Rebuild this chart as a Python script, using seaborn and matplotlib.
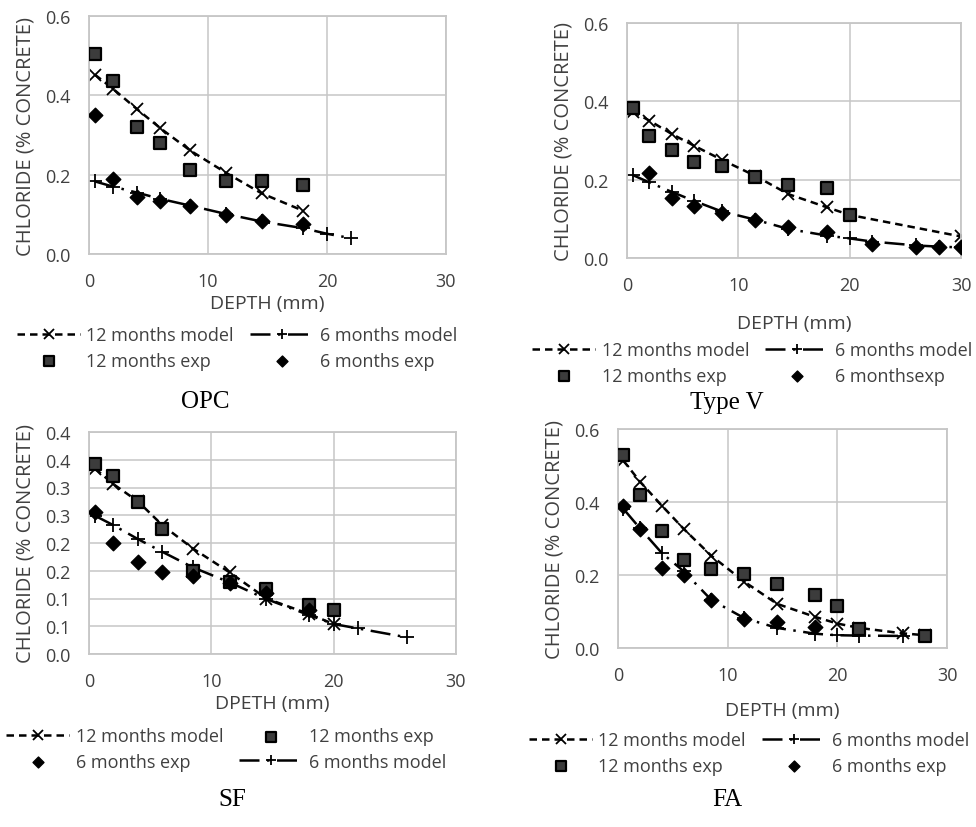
import matplotlib
matplotlib.use("Agg")
import matplotlib.pyplot as plt
import seaborn as sns
from matplotlib.ticker import FuncFormatter, MultipleLocator
import math

# ---- data ----
# OPC
opc_depth = [0.5, 2, 4, 6, 8.5, 11.5, 14.5, 18]
opc_12_model = [0.452, 0.417, 0.366, 0.317, 0.261, 0.205, 0.153, 0.109]
opc_12_exp = [0.503, 0.435, 0.320, 0.279, 0.213, 0.183, 0.183, 0.174]
opc_6_depth = [0.5, 2, 4, 6, 8.5, 11.5, 14.5, 18, 20, 22]
opc_6_model = [0.183, 0.170, 0.155, 0.139, 0.122, 0.101, 0.082, 0.065, 0.051, 0.040]
opc_6_exp = [0.351, 0.188, 0.143, 0.133, 0.122, 0.099, 0.082, 0.075]

# Type V
tv_12_model_depth = [0.5, 2, 4, 6, 8.5, 11.5, 14.5, 18, 20, 30]
tv_12_model = [0.374, 0.351, 0.317, 0.287, 0.251, 0.210, 0.163, 0.129, 0.110, 0.055]
tv_12_exp_depth = [0.5, 2, 4, 6, 8.5, 11.5, 14.5, 18, 20]
tv_12_exp = [0.382, 0.312, 0.276, 0.244, 0.236, 0.206, 0.186, 0.178, 0.110]
tv_6_model_depth = [0.5, 2, 4, 6, 8.5, 11.5, 14.5, 18, 20, 22, 26, 28, 30]
tv_6_model = [0.212, 0.193, 0.169, 0.146, 0.119, 0.098, 0.074, 0.057, 0.050, 0.042, 0.032, 0.029, 0.027]
tv_6_exp_depth = [2, 4, 6, 8.5, 11.5, 14.5, 18, 22, 26, 28, 30]
tv_6_exp = [0.217, 0.153, 0.134, 0.115, 0.097, 0.080, 0.066, 0.037, 0.029, 0.027, 0.027]

# SF
sf_depth = [0.5, 2, 4, 6, 8.5, 11.5, 14.5, 18, 20]
sf_12_model = [0.334, 0.306, 0.275, 0.232, 0.190, 0.147, 0.100, 0.072, 0.054]
sf_12_exp = [0.343, 0.321, 0.273, 0.226, 0.150, 0.130, 0.118, 0.088, 0.080]
sf_6_model_depth = [0.5, 2, 4, 6, 8.5, 11.5, 14.5, 18, 20, 22, 26]
sf_6_model = [0.249, 0.232, 0.207, 0.184, 0.156, 0.129, 0.099, 0.070, 0.054, 0.046, 0.030]
sf_6_exp_depth = [0.5, 2, 4, 6, 8.5, 11.5, 14.5, 18]
sf_6_exp = [0.255, 0.200, 0.166, 0.148, 0.140, 0.128, 0.110, 0.080]

# FA
fa_12_exp_depth = [0.5, 2, 4, 6, 8.5, 11.5, 14.5, 18, 20, 22, 28]
fa_12_exp = [0.529, 0.419, 0.320, 0.242, 0.217, 0.203, 0.176, 0.144, 0.114, 0.051, 0.032]
fa_12_model_depth = [0.5, 2, 4, 6, 8.5, 11.5, 14.5, 18, 20, 22, 26, 28]
fa_12_model = [0.513, 0.456, 0.390, 0.326, 0.253, 0.182, 0.121, 0.085, 0.067, 0.055, 0.040, 0.035]
fa_6_model_depth = [0.5, 2, 4, 6, 8.5, 11.5, 14.5, 18, 20, 22, 26]
fa_6_model = [0.381, 0.328, 0.260, 0.210, 0.132, 0.082, 0.055, 0.039, 0.035, 0.034, 0.033]
fa_6_exp_depth = [0.5, 2, 4, 6, 8.5, 11.5, 14.5, 18]
fa_6_exp = [0.390, 0.326, 0.219, 0.199, 0.132, 0.080, 0.071, 0.057]

W, H = 976, 828
sns.set_theme(style="whitegrid")
plt.rcParams['font.family'] = ['Open Sans', 'DejaVu Sans']
TXT = '#404040'
GRID = '#c6c6c6'

fig = plt.figure(figsize=(W / 100, H / 100), dpi=100)


def rect(l, r, t, b):
    return [l / W, 1 - b / H, (r - l) / W, (b - t) / H]


def half_up(v, pos):
    # Excel style rounding: 0.35 -> 0.4, 0.25 -> 0.3
    return "%.1f" % (math.floor(v * 10 + 0.5 + 1e-9) / 10)


def draw_panel(box, ymax, ystep, m12, e12, m6, e6, labels, order,
               xlabel, xlabelpad, leg_xy, caption, cap_xy):
    ax = fig.add_axes(rect(*box))
    sns.lineplot(x=m12[0], y=m12[1], ax=ax, color='black', lw=1.8,
                 linestyle=(0, (3, 2)), marker='x', markersize=9,
                 markeredgecolor='black', markeredgewidth=1.3,
                 label=labels[0], legend=False)
    sns.lineplot(x=m6[0], y=m6[1], ax=ax, color='black', lw=1.8,
                 linestyle=(0, (8, 3, 1, 3)), marker='+', markersize=10,
                 markeredgecolor='black', markeredgewidth=1.3,
                 label=labels[1], legend=False)
    sns.scatterplot(x=e12[0], y=e12[1], ax=ax, marker='s', s=80,
                    color='#3c3c3c', edgecolor='black', linewidth=1.6,
                    label=labels[2], legend=False, zorder=3)
    sns.scatterplot(x=e6[0], y=e6[1], ax=ax, marker='D', s=55,
                    color='black', edgecolor='black', linewidth=1,
                    label=labels[3], legend=False, zorder=3)

    ax.set_xlim(0, 30)
    ax.set_ylim(0, ymax)
    ax.xaxis.set_major_locator(MultipleLocator(10))
    ax.yaxis.set_major_locator(MultipleLocator(ystep))
    ax.yaxis.set_major_formatter(FuncFormatter(half_up))
    ax.grid(True, color=GRID, lw=1.1)
    for s in ax.spines.values():
        s.set_color(GRID)
        s.set_linewidth(1.3)
    ax.tick_params(length=0, pad=13, labelsize=13, labelcolor=TXT)
    ax.set_xlabel(xlabel, fontsize=14, color=TXT, labelpad=xlabelpad)
    ax.set_ylabel("CHLORIDE (% CONCRETE)", fontsize=14.5, color=TXT, labelpad=7)

    h, l = ax.get_legend_handles_labels()
    lookup = dict(zip(l, h))
    ax.legend([lookup[k] for k in order], order, loc='center',
              bbox_to_anchor=(leg_xy[0] / W, 1 - leg_xy[1] / H),
              bbox_transform=fig.transFigure, ncol=2, frameon=False,
              fontsize=13, handlelength=3.5, handletextpad=0.35,
              columnspacing=0.9, labelspacing=0.4, borderpad=0,
              markerscale=0.75, labelcolor=TXT)
    fig.text(cap_xy[0] / W, 1 - cap_xy[1] / H, caption, ha='center',
             va='center', fontsize=18, family='Liberation Serif', color='black')
    return ax


labels_std = ["12 months model", "6 months model", "12 months exp", "6 months exp"]

draw_panel((89, 446, 17, 255), 0.6, 0.2,
           (opc_depth, opc_12_model), (opc_depth, opc_12_exp),
           (opc_6_depth, opc_6_model), (opc_depth, opc_6_exp),
           labels_std,
           ["12 months model", "12 months exp", "6 months model", "6 months exp"],
           "DEPTH (mm)", 3, (237, 349), "OPC", (205, 402))

labels_tv = ["12 months model", "6 months model", "12 months exp", "6 monthsexp"]
draw_panel((627, 961, 24, 259), 0.6, 0.2,
           (tv_12_model_depth, tv_12_model), (tv_12_exp_depth, tv_12_exp),
           (tv_6_model_depth, tv_6_model), (tv_6_exp_depth, tv_6_exp),
           labels_tv,
           ["12 months model", "12 months exp", "6 months model", "6 monthsexp"],
           "DEPTH (mm)", 14, (752, 364), "Type V", (727, 403))

draw_panel((89, 456, 433, 655), 0.4, 0.05,
           (sf_depth, sf_12_model), (sf_depth, sf_12_exp),
           (sf_6_model_depth, sf_6_model), (sf_6_exp_depth, sf_6_exp),
           labels_std,
           ["12 months model", "6 months exp", "12 months exp", "6 months model"],
           "DPETH (mm)", 3, (226, 750), "SF", (232, 800))

draw_panel((618, 947, 430, 649), 0.6, 0.2,
           (fa_12_model_depth, fa_12_model), (fa_12_exp_depth, fa_12_exp),
           (fa_6_model_depth, fa_6_model), (fa_6_exp_depth, fa_6_exp),
           labels_std,
           ["12 months model", "12 months exp", "6 months model", "6 months exp"],
           "DEPTH (mm)", 12, (749, 754), "FA", (727, 800))

fig.savefig("out.png", dpi=100, facecolor='white')
